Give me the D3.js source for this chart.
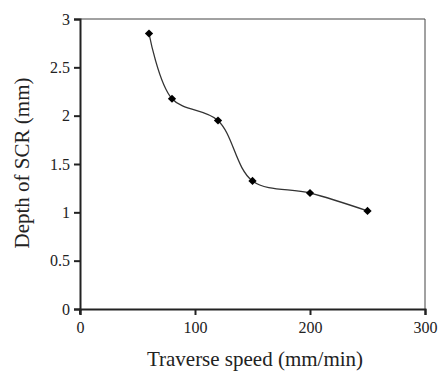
<!DOCTYPE html>
<html><head><meta charset="utf-8">
<script src="https://cdn.jsdelivr.net/npm/d3@7"></script>
<style>body{margin:0;background:#fff}svg{display:block}svg text{font-family:"Liberation Serif","Times New Roman",serif}</style>
</head><body>
<script>
const speeds = [60, 80, 120, 150, 200, 250];
const depths = [2.85, 2.175, 1.95, 1.325, 1.2, 1.015];
const xTicks = [0, 100, 200, 300];
const yTicks = [0, 0.5, 1, 1.5, 2, 2.5, 3];
const xTitle = "Traverse speed (mm/min)";
const yTitle = "Depth of SCR (mm)";

const W = 443, H = 372;
const m = {left: 80, right: 18, top: 19, bottom: 63};
const svg = d3.select("body").append("svg").attr("width", W).attr("height", H);
const x = d3.scaleLinear().domain([0, 300]).range([m.left, W - m.right]);
const y = d3.scaleLinear().domain([0, 3]).range([H - m.bottom, m.top]);

svg.append("path")
  .attr("d", `M${x(0)},${y(3)}H${x(300)}V${y(0)}`)
  .attr("fill", "none").attr("stroke", "#444").attr("stroke-width", 1);

const xAxis = svg.append("g").attr("transform", `translate(0,${y(0)})`)
  .call(d3.axisBottom(x).tickValues(xTicks).tickFormat(d3.format("d")).tickSizeOuter(0).tickSize(6).tickPadding(7));
const yAxis = svg.append("g").attr("transform", `translate(${x(0)},0)`)
  .call(d3.axisLeft(y).tickValues(yTicks).tickFormat(d => String(d)).tickSizeOuter(0).tickSize(6).tickPadding(4));
[xAxis, yAxis].forEach(g => {
  g.attr("font-size", 16);
  g.select(".domain").attr("stroke", "#222").attr("stroke-width", 2);
  g.selectAll(".tick line").attr("stroke", "#222").attr("stroke-width", 2);
  g.selectAll("text").attr("fill", "#222");
});
svg.append("line").attr("x1", x(0)).attr("x2", x(0)).attr("y1", y(0)).attr("y2", y(0) + 5)
  .attr("stroke", "#222").attr("stroke-width", 2);

const data = speeds.map((s, i) => ({s, d: depths[i]}));
svg.append("path").datum(data)
  .attr("d", d3.line().x(d => x(d.s)).y(d => y(d.d)).curve(d3.curveCatmullRom.alpha(0.5)))
  .attr("fill", "none").attr("stroke", "#333").attr("stroke-width", 1.3);

svg.selectAll(".pt").data(data).enter().append("path")
  .attr("transform", d => `translate(${x(d.s)},${y(d.d)}) rotate(45)`)
  .attr("d", d3.symbol().type(d3.symbolSquare).size(34))
  .attr("fill", "#000");

svg.append("text").attr("x", 255).attr("y", 366)
  .attr("text-anchor", "middle").attr("font-size", 21).attr("fill", "#222")
  .text(xTitle);
svg.append("text").attr("transform", `translate(29,163) rotate(-90)`)
  .attr("text-anchor", "middle").attr("font-size", 21).attr("fill", "#222")
  .text(yTitle);
</script>
</body></html>
